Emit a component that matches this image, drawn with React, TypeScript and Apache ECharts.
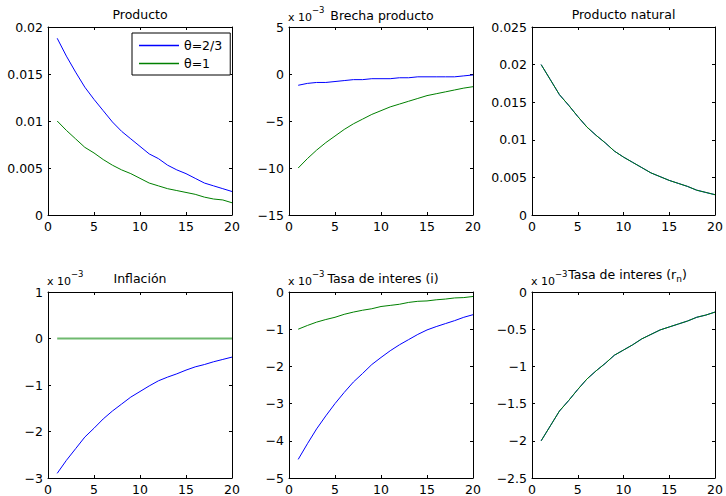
import React, { useEffect, useRef } from 'react';
import * as echarts from 'echarts';

const periods = [1, 2, 3, 4, 5, 6, 7, 8, 9, 10, 11, 12, 13, 14, 15, 16, 17, 18, 19, 20];

// Producto
const productoTheta23 = [0.0188, 0.0169, 0.0152, 0.0136, 0.0123, 0.0111, 0.0099, 0.0089, 0.0081, 0.0073, 0.0065, 0.0060, 0.0053, 0.0048, 0.0044, 0.0039, 0.0034, 0.0031, 0.0028, 0.0025];
const productoTheta1 = [0.0100, 0.0090, 0.0081, 0.0072, 0.0066, 0.0059, 0.0053, 0.0048, 0.0044, 0.0039, 0.0034, 0.0031, 0.0028, 0.0026, 0.0024, 0.0022, 0.0019, 0.0017, 0.0016, 0.0013];
// Brecha producto (x 10^-3)
const brechaTheta23 = [-1.2, -1.0, -0.9, -0.9, -0.8, -0.7, -0.6, -0.6, -0.5, -0.5, -0.5, -0.4, -0.4, -0.3, -0.3, -0.3, -0.3, -0.3, -0.2, -0.1];
const brechaTheta1 = [-10.0, -9.0, -8.1, -7.3, -6.6, -5.9, -5.3, -4.8, -4.3, -3.9, -3.5, -3.2, -2.9, -2.6, -2.3, -2.1, -1.9, -1.7, -1.5, -1.35];
// Producto natural
const naturalTheta23 = [0.0200, 0.0180, 0.0160, 0.0146, 0.0131, 0.0117, 0.0106, 0.0096, 0.0085, 0.0077, 0.0070, 0.0063, 0.0056, 0.0051, 0.0046, 0.0042, 0.0038, 0.0033, 0.0030, 0.0027];
const naturalTheta1 = [0.0200, 0.0180, 0.0160, 0.0146, 0.0131, 0.0117, 0.0106, 0.0096, 0.0085, 0.0077, 0.0070, 0.0063, 0.0056, 0.0051, 0.0046, 0.0042, 0.0038, 0.0033, 0.0030, 0.0027];
// Inflación (x 10^-3)
const inflacionTheta23 = [-2.9, -2.62, -2.37, -2.12, -1.93, -1.73, -1.56, -1.41, -1.26, -1.14, -1.02, -0.91, -0.83, -0.76, -0.68, -0.61, -0.56, -0.50, -0.45, -0.40];
const inflacionTheta1 = [0, 0, 0, 0, 0, 0, 0, 0, 0, 0, 0, 0, 0, 0, 0, 0, 0, 0, 0, 0];
// Tasa de interes (i) (x 10^-3)
const tasaITheta23 = [-4.5, -4.08, -3.68, -3.33, -3.0, -2.7, -2.42, -2.19, -1.95, -1.76, -1.58, -1.42, -1.28, -1.14, -1.02, -0.93, -0.85, -0.77, -0.68, -0.61];
const tasaITheta1 = [-1.0, -0.9, -0.81, -0.74, -0.68, -0.6, -0.54, -0.49, -0.45, -0.39, -0.36, -0.33, -0.28, -0.25, -0.24, -0.21, -0.19, -0.16, -0.15, -0.12];
// Tasa de interes (r_n) (x 10^-3)
const tasaRnTheta23 = [-2.0, -1.8, -1.6, -1.46, -1.31, -1.17, -1.06, -0.96, -0.85, -0.78, -0.71, -0.63, -0.57, -0.51, -0.47, -0.43, -0.39, -0.34, -0.31, -0.27];
const tasaRnTheta1 = [-2.0, -1.8, -1.6, -1.46, -1.31, -1.17, -1.06, -0.96, -0.85, -0.78, -0.71, -0.63, -0.57, -0.51, -0.47, -0.43, -0.39, -0.34, -0.31, -0.27];

const legendNames = ['\u03b8=2/3', '\u03b8=1'];
const xTicks = { min: 0, max: 20, interval: 5 };

const FONT = 'DejaVu Sans';
const FS = 12.5;
const BLUE = '#0000ff';
const GREEN = '#008000';

type Panel = {
  title: string;
  rich?: boolean;
  left: number;
  top: number;
  width: number;
  height: number;
  ymin: number;
  ymax: number;
  yint: number;
  exp: boolean;
  titleY: number;
  titleDx: number;
  expY: number;
  blue: number[];
  green: number[];
  greenSoft?: boolean;
};

const panels: Panel[] = [
  { title: 'Producto', left: 48, top: 27, width: 184, height: 188, ymin: 0, ymax: 0.02, yint: 0.005, exp: false, titleY: 14, titleDx: 0, expY: 17, blue: productoTheta23, green: productoTheta1 },
  { title: 'Brecha producto', left: 289, top: 27, width: 184, height: 188, ymin: -15, ymax: 5, yint: 5, exp: true, titleY: 15, titleDx: 1, expY: 17, blue: brechaTheta23, green: brechaTheta1 },
  { title: 'Producto natural', left: 532, top: 27, width: 183, height: 188, ymin: 0, ymax: 0.025, yint: 0.005, exp: false, titleY: 14, titleDx: 0, expY: 17, blue: naturalTheta23, green: naturalTheta1 },
  { title: 'Inflación', left: 48, top: 292, width: 184, height: 187, ymin: -3, ymax: 1, yint: 1, exp: true, titleY: 278, titleDx: 0, expY: 281, blue: inflacionTheta23, green: inflacionTheta1, greenSoft: true },
  { title: 'Tasa de interes (i)', left: 289, top: 292, width: 184, height: 187, ymin: -5, ymax: 0, yint: 1, exp: true, titleY: 278, titleDx: 2, expY: 281, blue: tasaITheta23, green: tasaITheta1 },
  { title: '{a|Tasa de interes (r}{s|n}{a|)}', rich: true, left: 532, top: 292, width: 183, height: 187, ymin: -2.5, ymax: 0, yint: 0.5, exp: true, titleY: 274, titleDx: 4, expY: 281, blue: tasaRnTheta23, green: tasaRnTheta1 },
];

const fmt = (v: number) => String(parseFloat(v.toFixed(5))).replace('-', '\u2212');

export default function App() {
  const ref = useRef<HTMLDivElement>(null);
  useEffect(() => {
    if (!ref.current) return;
    const chart = echarts.init(ref.current, undefined, { renderer: 'svg' });
    const grid: any[] = [];
    const xAxis: any[] = [];
    const yAxis: any[] = [];
    const series: any[] = [];
    const graphic: any[] = [];
    const lineStyle = { color: '#000', width: 1 };
    const tick = { show: true, inside: true, length: 3, lineStyle: { color: '#000', width: 1 } };
    panels.forEach((p, i) => {
      grid.push({ left: p.left, top: p.top, width: p.width, height: p.height, show: false, containLabel: false });
      const xi = xAxis.length;
      xAxis.push({
        type: 'value', gridIndex: i, position: 'bottom', ...xTicks,
        axisLine: { show: true, onZero: false, lineStyle }, axisTick: tick, splitLine: { show: false },
        axisLabel: { show: true, color: '#000', fontFamily: FONT, fontSize: FS, margin: 5, showMinLabel: true, showMaxLabel: true, formatter: fmt },
      });
      xAxis.push({
        type: 'value', gridIndex: i, position: 'top', ...xTicks,
        axisLine: { show: true, onZero: false, lineStyle }, axisTick: tick, splitLine: { show: false }, axisLabel: { show: false },
      });
      const yi = yAxis.length;
      yAxis.push({
        type: 'value', gridIndex: i, position: 'left', min: p.ymin, max: p.ymax, interval: p.yint,
        axisLine: { show: true, onZero: false, lineStyle }, axisTick: tick, splitLine: { show: false },
        axisLabel: { show: true, color: '#000', fontFamily: FONT, fontSize: FS, margin: 5, showMinLabel: true, showMaxLabel: true, formatter: fmt },
      });
      yAxis.push({
        type: 'value', gridIndex: i, position: 'right', min: p.ymin, max: p.ymax, interval: p.yint,
        axisLine: { show: true, onZero: false, lineStyle }, axisTick: tick, splitLine: { show: false }, axisLabel: { show: false },
      });
      series.push({
        type: 'line', name: legendNames[0], xAxisIndex: xi, yAxisIndex: yi, symbol: 'none', color: BLUE,
        lineStyle: { color: BLUE, width: 1 }, data: periods.map((t, k) => [t, p.blue[k]]),
      });
      series.push({
        type: 'line', name: legendNames[1], xAxisIndex: xi, yAxisIndex: yi, symbol: 'none', color: GREEN,
        lineStyle: p.greenSoft ? { color: '#6fb96f', width: 2 } : { color: GREEN, width: 1 },
        data: periods.map((t, k) => [t, p.green[k]]),
      });
      const cx = p.left + p.width / 2 + p.titleDx;
      if (p.rich) {
        graphic.push({
          type: 'text', x: cx, y: p.titleY,
          style: {
            text: p.title, align: 'center', verticalAlign: 'middle', textAlign: 'center', textVerticalAlign: 'middle', fill: '#000',
            rich: {
              a: { fontFamily: FONT, fontSize: FS, fill: '#000', lineHeight: 18 },
              s: { fontFamily: FONT, fontSize: 9, fill: '#000', verticalAlign: 'bottom', lineHeight: 11 },
            },
          },
        });
      } else {
        graphic.push({
          type: 'text', x: cx, y: p.titleY,
          style: { text: p.title, fontFamily: FONT, fontSize: FS, fill: '#000', align: 'center', verticalAlign: 'middle', textAlign: 'center', textVerticalAlign: 'middle' },
        });
      }
      if (p.exp) {
        graphic.push({
          type: 'text', x: p.left - 1, y: p.expY,
          style: { text: 'x 10', fontFamily: FONT, fontSize: 11, fill: '#000', align: 'left', verticalAlign: 'middle', textAlign: 'left', textVerticalAlign: 'middle' },
        });
        graphic.push({
          type: 'text', x: p.left + 23, y: p.expY - 7,
          style: { text: '\u22123', fontFamily: FONT, fontSize: 8.5, fill: '#000', align: 'left', verticalAlign: 'middle', textAlign: 'left', textVerticalAlign: 'middle' },
        });
      }
    });
    chart.setOption({
      animation: false,
      backgroundColor: '#fff',
      grid, xAxis, yAxis, series, graphic,
      legend: {
        data: legendNames, orient: 'vertical', left: 132, top: 33,
        padding: [6, 8, 5, 7], itemGap: 5, itemWidth: 40, itemHeight: 1.5, icon: 'rect',
        borderColor: '#000', borderWidth: 1, backgroundColor: '#fff', borderRadius: 0,
        textStyle: { color: '#000', fontFamily: FONT, fontSize: FS }, selectedMode: false,
      },
    });
    return () => chart.dispose();
  }, []);
  return <div ref={ref} style={{ position: 'fixed', left: 0, top: 0, width: 726, height: 496, background: '#fff' }} />;
}
